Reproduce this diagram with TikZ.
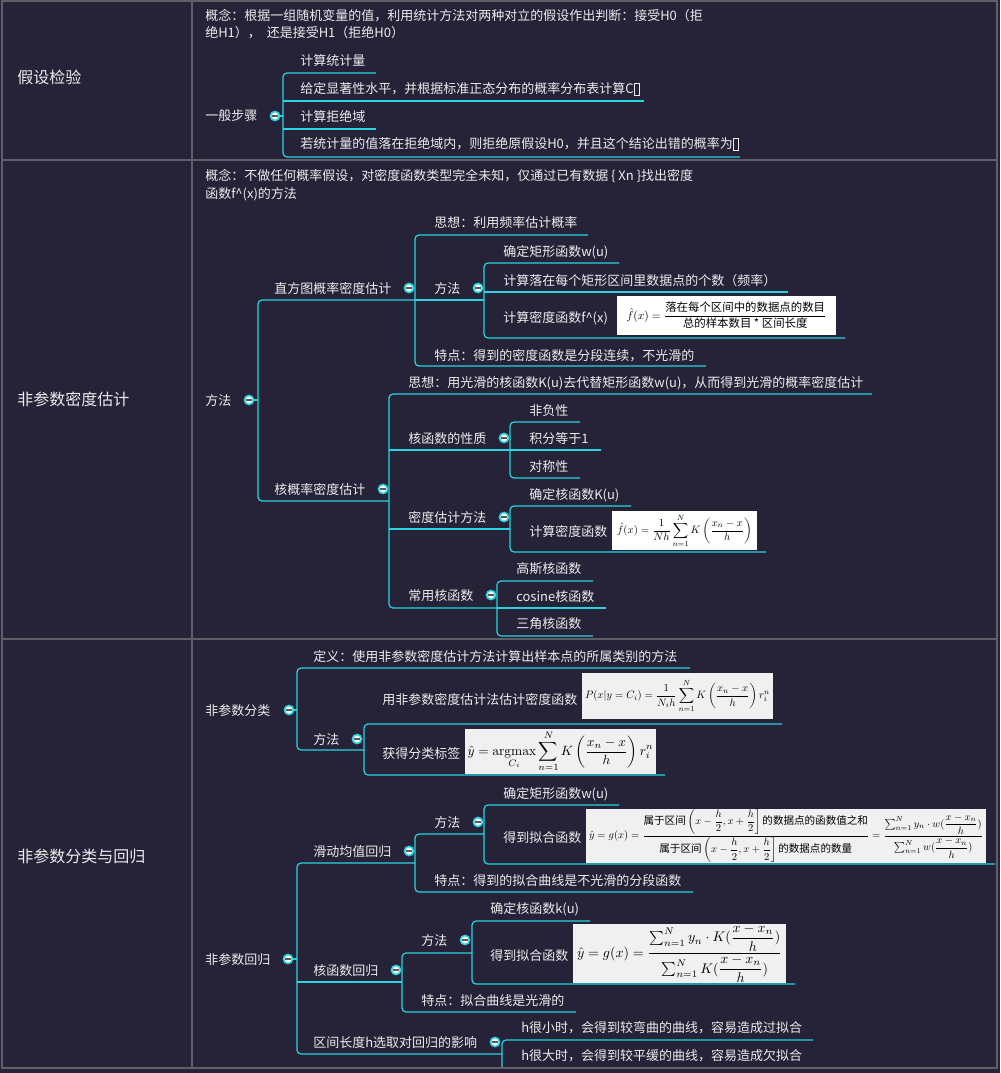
\documentclass[tikz,border=0pt]{standalone}
\usepackage{amsmath}
\usepackage[no-math]{fontspec}
\setmainfont{Noto Sans CJK SC}
\usepackage{graphicx}
\definecolor{bg}{RGB}{38,35,56}
\definecolor{gl}{RGB}{95,95,105}
\definecolor{cy}{RGB}{40,212,222}
\definecolor{tx}{RGB}{236,236,236}
\definecolor{fgr}{RGB}{240,240,240}
\newcommand\fs{\fontsize{9.75}{12.75}\selectfont}
\newcommand\fst{\fontsize{12}{14}\selectfont}
\newcommand\tofu{{\setlength\fboxsep{0pt}\setlength\fboxrule{0.5pt}\fbox{\rule{0pt}{0.8em}\rule[-0.1em]{0pt}{0.1em}\hspace{0.35em}}}}
\newcommand\grp[5]{\draw[lk] (#3,#2) -- (#1,#2) -- (#1,#4) -- (#5,#4);}
\newcommand\hl[3]{\draw[lk] (#1,#2) -- (#3,#2);}
\begin{document}
\begin{tikzpicture}[x=0.75pt,y=-0.75pt,
  lk/.style={draw=cy, line width=0.9pt, rounded corners=3pt},
  grid/.style={draw=gl, line width=1.3pt},
  t/.style={anchor=base west, inner sep=0pt, text=tx, font=\fs},
  tt/.style={anchor=base west, inner sep=0pt, text=tx, font=\fst},
  btn/.style={circle, inner sep=0pt, minimum size=6.8pt, fill=white, draw=cy, line width=1.2pt,
    path picture={\draw[black!65, line width=0.9pt] ([xshift=-2pt]path picture bounding box.center) -- ([xshift=2pt]path picture bounding box.center);}},
  fbx/.style={inner sep=0pt, text=black, fill=#1}]
\useasboundingbox (0,0) rectangle (1000,1073);
\fill[bg] (0,0) rectangle (1000,1073);

% ---------- connectors ----------
% row 1
\grp{283}{73}{376}{157}{740}
\hl{283}{101}{644}
\hl{283}{129}{376}
% row 2
\grp{258}{300}{415}{501}{389}
\grp{415}{235}{588}{366}{706}
\hl{415}{300}{484}
\grp{484}{263}{619}{338}{845}
\hl{484}{292}{788}
\grp{389}{394}{872}{608}{497}
\hl{389}{450}{510}
\hl{389}{529}{510}
\grp{510}{422}{580}{478}{580}
\hl{510}{450}{601}
\grp{510}{506}{631}{552}{766}
\grp{497}{581}{593}{636}{593}
\hl{497}{608}{606}
% row 3
\grp{297}{668}{690}{750}{364}
\grp{364}{724}{782}{775}{665}
\grp{297}{863}{415}{1054}{502}
\hl{297}{982}{402}
\grp{415}{834}{484}{892}{693}
\grp{484}{805}{619}{864}{995}
\grp{402}{953}{472}{1012}{576}
\grp{472}{921}{590}{984}{795}
\draw[lk] (813,1040) -- (502,1040) -- (502,1068);

% ---------- row 1 ----------
\node[tt] (h1) at (17,84) {假设检验};
\node[t] (c1a) at (205,21) {概念：根据一组随机变量的值，利用统计方法对两种对立的假设作出判断：接受H0（拒};
\node[t] (c1b) at (205,38) {绝H1），~~还是接受H1（拒绝H0）};
\node[t] (g1) at (205,121) {一般步骤};
\node[btn] (b1) at (275,116) {};
\draw[lk] (b1.east) -- (283,116);
\node[t] (s1) at (300,66) {计算统计量};
\node[t] (s2) at (300,94) {给定显著性水平，并根据标准正态分布的概率分布表计算C\tofu};
\node[t] (s3) at (300,122) {计算拒绝域};
\node[t] (s4) at (300,149) {若统计量的值落在拒绝域内，则拒绝原假设H0，并且这个结论出错的概率为\tofu};

% ---------- row 2 ----------
\node[tt] (h2) at (17,405) {非参数密度估计};
\node[t] (c2a) at (205,181) {概念：不做任何概率假设，对密度函数类型完全未知，仅通过已有数据 \{ Xn \}找出密度};
\node[t] (c2b) at (205,199) {函数f\textasciicircum(x)的方法};
\node[t] (m2) at (205,405) {方法};
\node[btn] (b2) at (249,400) {};
\draw[lk] (b2.east) -- (258,400);
\node[t] (hist) at (274,293) {直方图概率密度估计};
\node[btn] (bh) at (409,288) {};
\node[t] (kern) at (274,494) {核概率密度估计};
\node[btn] (bk) at (383,489) {};
\node[t] (hi1) at (434,228) {思想：利用频率估计概率};
\node[t] (hi2) at (434,293) {方法};
\node[btn] (bhm) at (478,288) {};
\node[t] (hi3) at (434,360) {特点：得到的密度函数是分段连续，不光滑的};
\node[t] (hm1) at (503,257) {确定矩形函数w(u)};
\node[t] (hm2) at (503,285) {计算落在每个矩形区间里数据点的个数（频率）};
\node[t] (hm3) at (503,322) {计算密度函数f\textasciicircum(x)};
\node[fbx=white, minimum width=164.25pt, minimum height=29.25pt] (f1) at (726.5,315.5)
  {\resizebox{150pt}{!}{$\displaystyle \hat f(x)=\frac{\text{落在每个区间中的数据点的数目}}{\text{总的样本数目 * 区间长度}}$}};
\node[t] (k1) at (408,387) {思想：用光滑的核函数K(u)去代替矩形函数w(u)，从而得到光滑的概率密度估计};
\node[t] (k2) at (408,443) {核函数的性质};
\node[btn] (bk2) at (504,438) {};
\node[t] (k3) at (408,522) {密度估计方法};
\node[btn] (bk3) at (504,517) {};
\node[t] (k4) at (408,600) {常用核函数};
\node[btn] (bk4) at (491,595) {};
\node[t] (p1) at (529,415) {非负性};
\node[t] (p2) at (529,443) {积分等于1};
\node[t] (p3) at (529,471) {对称性};
\node[t] (d1) at (529,499) {确定核函数K(u)};
\node[t] (d2) at (529,536) {计算密度函数};
\node[fbx=white, minimum width=108.75pt, minimum height=29.25pt] (f2) at (684.5,530.5)
  {\resizebox{101.25pt}{!}{$\displaystyle \hat f(x)=\frac{1}{Nh}\sum_{n=1}^{N}K\left(\frac{x_n-x}{h}\right)$}};
\node[t] (e1) at (516,573) {高斯核函数};
\node[t] (e2) at (516,601) {cosine核函数};
\node[t] (e3) at (516,628) {三角核函数};

% ---------- row 3 ----------
\node[tt] (h3) at (17,862) {非参数分类与回归};
\node[t] (cl) at (205,715) {非参数分类};
\node[btn] (bcl) at (289,710) {};
\draw[lk] (bcl.east) -- (297,710);
\node[t] (cl1) at (313,661) {定义：使用非参数密度估计方法计算出样本点的所属类别的方法};
\node[t] (cl2) at (313,744) {方法};
\node[btn] (bcl2) at (357,739) {};
\node[t] (cl21) at (382,704) {用非参数密度估计法估计密度函数};
\node[fbx=fgr, minimum width=143.25pt, minimum height=34.5pt] (f3) at (677.5,696)
  {\resizebox{138.75pt}{!}{$\displaystyle P(x|y=C_i)=\frac{1}{N_ih}\sum_{n=1}^{N}K\left(\frac{x_n-x}{h}\right)r_i^n$}};
\node[t] (cl22) at (382,758) {获得分类标签};
\node[fbx=fgr, minimum width=143.25pt, minimum height=33.75pt] (f4) at (560.5,751.5)
  {\resizebox{139.5pt}{!}{$\displaystyle \hat y=\operatorname*{argmax}_{C_i}\sum_{n=1}^{N}K\left(\frac{x_n-x}{h}\right)r_i^n$}};

\node[t] (rg) at (205,964) {非参数回归};
\node[btn] (brg) at (288,959) {};
\draw[lk] (brg.east) -- (297,959);
\node[t] (ma) at (313,856) {滑动均值回归};
\node[btn] (bma) at (409,851) {};
\node[t] (ma1) at (434,827) {方法};
\node[btn] (bma1) at (478,822) {};
\node[t] (ma11) at (503,798) {确定矩形函数w(u)};
\node[t] (ma12) at (503,842) {得到拟合函数};
\node[fbx=fgr, minimum width=300pt, minimum height=39pt] (f5) at (786,836)
  {\resizebox{295.5pt}{!}{$\displaystyle \hat y=g(x)=\frac{\text{属于区间}\left(x-\dfrac{h}{2},x+\dfrac{h}{2}\right]\text{的数据点的函数值之和}}{\text{属于区间}\left(x-\dfrac{h}{2},x+\dfrac{h}{2}\right]\text{的数据点的数量}}=\frac{\sum\nolimits_{n=1}^{N}y_n\cdot w(\dfrac{x-x_n}{h})}{\sum\nolimits_{n=1}^{N}w(\dfrac{x-x_n}{h})}$}};
\node[t] (ma2) at (434,885) {特点：得到的拟合曲线是不光滑的分段函数};
\node[t] (kr) at (313,975) {核函数回归};
\node[btn] (bkr) at (396,970) {};
\node[t] (kr1) at (421,945) {方法};
\node[btn] (bkr1) at (465,940) {};
\node[t] (kr11) at (490,913) {确定核函数k(u)};
\node[t] (kr12) at (490,960) {得到拟合函数};
\node[fbx=fgr, minimum width=159.75pt, minimum height=42.75pt] (f6) at (679.5,953.5)
  {\resizebox{153.75pt}{!}{$\displaystyle \hat y=g(x)=\frac{\sum\nolimits_{n=1}^{N}y_n\cdot K(\dfrac{x-x_n}{h})}{\sum\nolimits_{n=1}^{N}K(\dfrac{x-x_n}{h})}$}};
\node[t] (kr2) at (421,1005) {特点：拟合曲线是光滑的};
\node[t] (iv) at (313,1047) {区间长度h选取对回归的影响};
\node[btn] (biv) at (495,1042) {};
\node[t] (iv1) at (521,1032) {h很小时，会得到较弯曲的曲线，容易造成过拟合};
\node[t] (iv2) at (521,1060) {h很大时，会得到较平缓的曲线，容易造成欠拟合};

% ---------- table grid ----------
\draw[grid] (2,1) rectangle (997,1068);
\draw[grid] (192,1) -- (192,1068);
\draw[grid] (2,160) -- (997,160);
\draw[grid] (2,639) -- (997,639);
\end{tikzpicture}
\end{document}
